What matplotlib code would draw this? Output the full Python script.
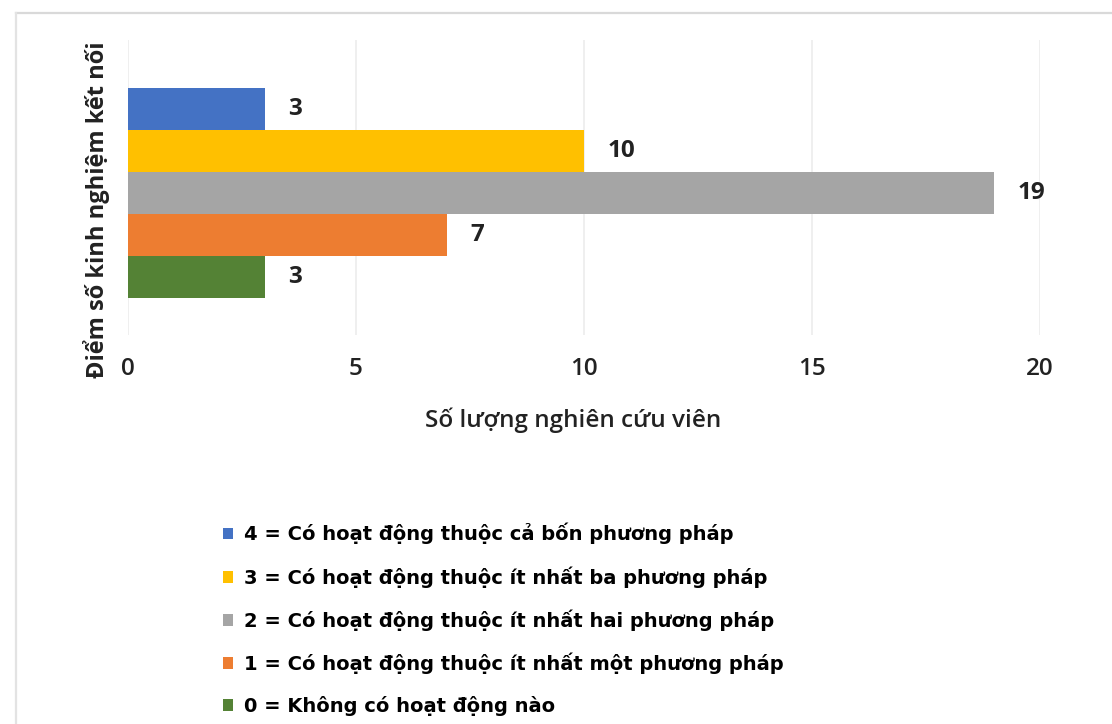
import matplotlib.pyplot as plt
from matplotlib.patches import Patch
from matplotlib.lines import Line2D

plt.rcParams['font.family'] = ['Open Sans', 'DejaVu Sans']

# Connection-experience score (top bar = 4, bottom bar = 0)
scores = [4, 3, 2, 1, 0]
counts = [3, 10, 19, 7, 3]
colors = ['#4472C4', '#FFC000', '#A5A5A5', '#ED7D31', '#548235']
legend_labels = [
    '4 = Có hoạt động thuộc cả bốn phương pháp',
    '3 = Có hoạt động thuộc ít nhất ba phương pháp',
    '2 = Có hoạt động thuộc ít nhất hai phương pháp',
    '1 = Có hoạt động thuộc ít nhất một phương pháp',
    '0 = Không có hoạt động nào',
]
x_ticks = [0, 5, 10, 15, 20]
x_title = 'Số lượng nghiên cứu viên'
y_title = 'Điểm số kinh nghiệm kết nối'

W, H = 1112, 724
fig = plt.figure(figsize=(W / 100, H / 100), dpi=100)
fig.patch.set_facecolor('white')

# card border (top and left edges)
fig.add_artist(Line2D([16 / W, 1], [1 - 13 / H, 1 - 13 / H], color='#d9d9d9', lw=1.6))
fig.add_artist(Line2D([16 / W, 16 / W], [0, 1 - 13 / H], color='#e3e3e3', lw=1.6))

ax = fig.add_axes([128 / W, 1 - 335 / H, 912 / W, 295 / H])
for s, c, col, lab in zip(scores, counts, colors, legend_labels):
    b = ax.barh(s, c, height=1.0, color=col, label=lab, zorder=2)
    ax.bar_label(b, labels=[str(c)], padding=17, fontsize=17.5, fontweight='bold',
                 color='#222222')

ax.set_xlim(0, 20)
ax.set_ylim(-1.38, 5.64)
ax.set_xticks(x_ticks)
ax.set_xticklabels([str(t) for t in x_ticks], fontsize=17.5, fontweight='semibold',
                   color='#222222')
ax.set_yticks([])
ax.tick_params(axis='x', length=0, pad=16)
ax.grid(axis='x', color='#ececec', lw=1.2, zorder=0)
for sp in ax.spines.values():
    sp.set_visible(False)

ax.set_xlabel(x_title, fontsize=17.5, fontweight='semibold', color='#222222')
ax.xaxis.set_label_coords(0.488, -0.245)
ax.set_ylabel(y_title, fontsize=17, fontweight='bold', color='#222222')
ax.yaxis.set_label_coords(-0.02, 0.424)

handles = [Patch(facecolor=col, edgecolor='none') for col in colors]
fig.legend(handles, legend_labels, loc='upper left',
           bbox_to_anchor=(215 / W, 1 - 515 / H), frameon=False,
           handlelength=0.55, handleheight=0.55,
           handletextpad=0.55, labelspacing=1.12, borderaxespad=0,
           prop={'family': 'DejaVu Sans', 'weight': 'bold', 'size': 14})

fig.savefig('out.png', dpi=100)
